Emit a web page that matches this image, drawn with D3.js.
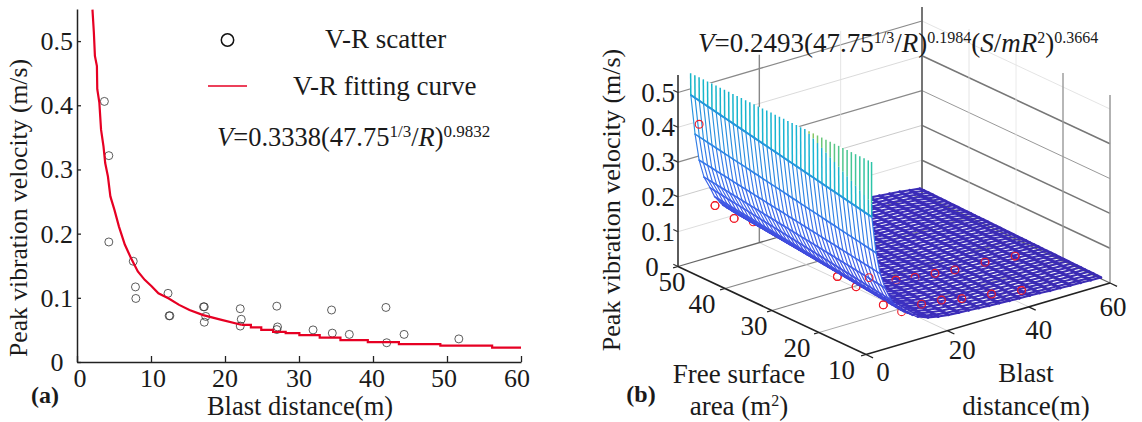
<!DOCTYPE html>
<html>
<head>
<meta charset="utf-8">
<script src="https://cdn.jsdelivr.net/npm/d3@7"></script>
<style>
	body { margin: 0; background: #fff; }
	text { font-family: "Liberation Serif", serif; fill: #1a1a1a; }
</style>
</head>
<body>
<div id="chart"></div>
<script>
// panel (a): measured points, blast distance against peak velocity
const scatterR = [3.7, 4.3, 4.3, 7.6, 7.9, 7.95, 12.3, 12.45, 12.55, 17.1, 17.2, 17.4, 17.2, 22.06, 22.2, 22.06, 27, 27.1, 27, 31.9, 34.4, 34.5, 36.8, 41.75, 41.85, 44.2, 51.6];
const scatterV = [0.406, 0.3215, 0.187, 0.157, 0.117, 0.099, 0.107, 0.072, 0.072, 0.086, 0.086, 0.071, 0.062, 0.083, 0.0666, 0.056, 0.087, 0.0546, 0.0505, 0.05, 0.081, 0.045, 0.043, 0.085, 0.03, 0.043, 0.036];

// fitted curve, the tail of it is visibly stepped
const curveR = [2.09, 2.28, 2.42, 2.69, 2.74, 3.02, 3.25, 3.58, 3.81, 4.18, 4.51, 5.06, 5.67, 6.46, 7.29, 8.22, 9.15, 10.08, 11.0, 12.4, 13.8, 15.2, 17.05, 19.4, 22.2];
const curveV = [0.549, 0.513, 0.477, 0.461, 0.425, 0.404, 0.362, 0.336, 0.31, 0.289, 0.258, 0.237, 0.211, 0.183, 0.162, 0.141, 0.128, 0.118, 0.107, 0.099, 0.089, 0.081, 0.073, 0.066, 0.058];
const tailR = [22.2, 23.5, 24.9, 26.5, 28.2, 30.05, 32.8, 35.6, 39.3, 43.5, 49.1, 56.1, 60];
const tailV = [0.058, 0.054, 0.05, 0.047, 0.045, 0.042, 0.038, 0.034, 0.031, 0.028, 0.0255, 0.0224, 0.0224];

const xTicksA = [0, 10, 20, 30, 40, 50, 60];
const yTicks = [0, 0.1, 0.2, 0.3, 0.4, 0.5];

// panel (b): wire mesh, one row per blast distance, value at both ends of the row
const meshS = [50, 49.1, 48.2, 47.3, 46.4, 45.5, 44.6, 43.7, 42.8, 41.9, 41, 40.1, 39.2, 38.3, 37.4, 36.5, 35.6, 34.7, 33.8, 32.9, 32, 31.1, 30.2, 29.3, 28.4, 27.5, 26.6, 25.7, 24.8, 23.9, 23, 22.1, 21.2, 20.3, 19.4, 18.5, 17.6, 16.7, 15.8, 14.9, 14, 13.1, 12.2, 11.5];
const rowR = [3.15, 4.2, 5.2, 6.4, 7.9, 9, 10.3, 11, 12, 13.2, 14.5, 17, 19.5, 22, 24.5, 27, 29.5, 32, 34.5, 37, 39.5, 42, 44.5, 47, 49.5, 52, 54.5, 57, 59.5];
const rowVFar = [0.482, 0.366, 0.288, 0.235, 0.199, 0.17, 0.15, 0.139, 0.128, 0.115, 0.104, 0.09, 0.079, 0.071, 0.065, 0.06, 0.056, 0.052, 0.048, 0.045, 0.043, 0.041, 0.039, 0.037, 0.034, 0.031, 0.028, 0.024, 0.02];
const rowVNear = [0.375, 0.268, 0.205, 0.16, 0.12, 0.1, 0.085, 0.076, 0.068, 0.058, 0.05, 0.039, 0.033, 0.029, 0.027, 0.025, 0.023, 0.021, 0.02, 0.018, 0.017, 0.016, 0.015, 0.013, 0.012, 0.011, 0.01, 0.009, 0.008];
const crestR = 3.1;
const crestV = [0.545, 0.533];
const greenS = [25.9, 11.5];
const greenV = [0.54, 0.414];

// red measured points of panel (b), three free surface groups
const pointsS = [50, 50, 50, 50, 25, 25, 25, 25, 25, 25, 25, 25, 25, 13.5, 13.5, 13.5, 13.5, 13.5, 13.5, 13.5];
const pointsR = [5.2, 9.1, 13.8, 18.5, 10.3, 14.9, 18.1, 24.7, 29.4, 34.3, 39.2, 46.6, 54, 8.3, 12.8, 17.7, 22.6, 27.6, 34.9, 42.3];
const pointsV = [0.391, 0.144, 0.091, 0.065, 0.094, 0.049, 0.064, 0.034, 0.026, 0.021, 0.014, 0.011, 0.003, 0.092, 0.057, 0.062, 0.057, 0.044, 0.032, 0.017];

const zTicks = [0, 0.1, 0.2, 0.3, 0.4, 0.5];
const sTicks = [50, 40, 30, 20, 10];
const rTicks = [0, 20, 40, 60];

const svg = d3.select("#chart").append("svg")
	.attr("width", 1142)
	.attr("height", 422);

const fontSize = 26;

function label(x, y, str, anchor, size, weight) {
	return svg.append("text")
		.attr("x", x)
		.attr("y", y)
		.attr("text-anchor", anchor || "middle")
		.attr("font-size", size || fontSize)
		.attr("font-weight", weight || "normal")
		.text(str);
}

// equation text made of [string, italic, superscript] pieces
function equation(x, y, parts, size, supSize) {
	const t = svg.append("text").attr("x", x).attr("y", y).attr("font-size", size);
	parts.forEach(p => {
		const s = t.append("tspan").text(p[0]);
		if (p[1]) s.attr("font-style", "italic");
		if (p[2] === 1) s.attr("font-size", supSize).attr("dy", -9);
		if (p[2] === -1) s.attr("dy", 9);
	});
	return t;
}

function drawPanelA() {
	const x = d3.scaleLinear().domain([0, 60]).range([77, 521]);
	const y = d3.scaleLinear().domain([0, 0.55]).range([362, 9]);

	const xAxis = svg.append("g")
		.attr("transform", "translate(0,362)")
		.call(d3.axisBottom(x).tickValues(xTicksA).tickSize(-6).tickSizeOuter(0).tickFormat(""));
	const yAxis = svg.append("g")
		.attr("transform", "translate(77,0)")
		.call(d3.axisLeft(y).tickValues(yTicks).tickSize(-4).tickSizeOuter(0).tickFormat(""));
	[xAxis, yAxis].forEach(a => {
		a.select(".domain").attr("stroke", "#222").attr("stroke-width", 1.5);
		a.selectAll(".tick line").attr("stroke", "#222").attr("stroke-width", 1.3);
	});

	xTicksA.forEach((d, i) => {
		label(x(d) + [3, 2, 0, 0, -1, -3, -4][i], 387, d);
	});
	yTicks.forEach(d => {
		if (d === 0) label(57, y(d) + 9, "0");
		else label(73, y(d) + 9, d.toFixed(1), "end");
	});

	svg.selectAll("circle.measured")
		.data(scatterR)
		.enter().append("circle")
		.attr("class", "measured")
		.attr("cx", d => x(d))
		.attr("cy", (d, i) => y(scatterV[i]))
		.attr("r", 4)
		.attr("fill", "none")
		.attr("stroke", "#333")
		.attr("stroke-width", 0.8);

	const head = d3.line().x(d => x(d)).y((d, i) => y(curveV[i]));
	const tail = d3.line().x(d => x(d)).y((d, i) => y(tailV[i])).curve(d3.curveStepAfter);
	[head(curveR), tail(tailR)].forEach(d => {
		svg.append("path")
			.attr("d", d)
			.attr("fill", "none")
			.attr("stroke", "#e60023")
			.attr("stroke-width", 2.2);
	});

	// legend
	svg.append("circle").attr("cx", 227.5).attr("cy", 40).attr("r", 6.2)
		.attr("fill", "none").attr("stroke", "#111").attr("stroke-width", 1.5);
	svg.append("line").attr("x1", 208).attr("x2", 247).attr("y1", 86).attr("y2", 86)
		.attr("stroke", "#e60023").attr("stroke-width", 1.6);
	label(325, 48, "V-R scatter", "start", 27);
	label(293, 95, "V-R fitting curve", "start", 27);
	equation(217, 146, [["V", true], ["=0.3338(47.75"], ["1/3", false, 1], ["/", false, -1], ["R", true], [")"], ["0.9832", false, 1]], 26.5, 17);

	label(300, 415, "Blast distance(m)", "middle", 26.5);
	svg.append("text")
		.attr("transform", "translate(27,208) rotate(-90)")
		.attr("text-anchor", "middle")
		.attr("font-size", 25.6)
		.text("Peak vibration velocity (m/s)");
	label(45, 403, "(a)", "middle", 24, "bold");
}

function drawPanelB() {
	// oblique view: every point is a sum of three screen offsets
	const sX = d3.scaleLinear().domain([50, 10]).range([678, 866]);
	const sY = d3.scaleLinear().domain([50, 10]).range([266.5, 354.5]);
	const rX = d3.scaleLinear().domain([0, 60]).range([0, 244]);
	const rY = d3.scaleLinear().domain([0, 60]).range([0, -71.5]);
	const vY = d3.scaleLinear().domain([0, 0.5]).range([0, -174]);
	const px = (r, s) => sX(s) + rX(r);
	const py = (r, s, v) => sY(s) + rY(r) + vY(v);

	const seg = (a, b, color, width) => svg.append("line")
		.attr("x1", px(a[0], a[1])).attr("y1", py(a[0], a[1], a[2]))
		.attr("x2", px(b[0], b[1])).attr("y2", py(b[0], b[1], b[2]))
		.attr("stroke", color).attr("stroke-width", width);

	// back walls, the uneven weights come from the resampled original
	const leftWall = {0.1: ["#d4d4d4", 0.8], 0.2: ["#c4c4c4", 0.9], 0.3: ["#8a8a8a", 1.2], 0.4: ["#d0d0d0", 0.8], 0.5: ["#8a8a8a", 1.3]};
	const rightWall = {0.1: ["#777", 1.5], 0.2: ["#777", 1.5], 0.3: ["#999", 1], 0.4: ["#777", 1.6], 0.5: ["#ddd", 0.8]};
	zTicks.slice(1).forEach(v => {
		seg([0, 50, v], [60, 50, v], leftWall[v][0], leftWall[v][1]);
		seg([60, 50, v], [60, 10, v], rightWall[v][0], rightWall[v][1]);
	});
	seg([20, 50, 0], [20, 50, 0.54], "#888", 1.4);
	seg([40, 50, 0], [40, 50, 0.54], "#ddd", 0.8);
	seg([60, 50, 0], [60, 50, 0.54], "#666", 1.8);
	seg([60, 40, 0], [60, 40, 0.54], "#ddd", 0.8);
	seg([60, 30, 0], [60, 30, 0.54], "#e4e4e4", 0.8);
	seg([60, 20, 0], [60, 20, 0.54], "#999", 1.4);
	seg([60, 10, 0], [60, 10, 0.54], "#999", 1.5);

	// floor
	seg([0, 40, 0], [60, 40, 0], "#888", 1.2);
	seg([0, 30, 0], [60, 30, 0], "#888", 1.2);
	seg([0, 20, 0], [60, 20, 0], "#aaa", 1);
	seg([20, 10, 0], [20, 50, 0], "#ccc", 0.8);
	seg([40, 10, 0], [40, 50, 0], "#ccc", 0.8);
	seg([0, 50, 0], [60, 50, 0], "#666", 1.3);
	seg([60, 50, 0], [60, 10, 0], "#666", 1.3);

	// axes
	seg([0, 50, 0], [0, 50, 0.55], "#333", 1.6);
	seg([0, 50, 0], [0, 10, 0], "#222", 1.6);
	seg([0, 10, 0], [60, 10, 0], "#222", 1.6);
	zTicks.forEach(v => seg([0, 51, v], [0, 50, v], "#333", 1.2));
	sTicks.forEach(s => seg([-1.2, s, 0], [0, s, 0], "#222", 1.3));
	rTicks.forEach(r => seg([r, 8.5, 0], [r, 10, 0], "#222", 1.3));

	const ramp = d3.scaleLinear()
		.domain([0, 0.04, 0.1, 0.2, 0.3, 0.4, 0.5])
		.range(["#3a2ab0", "#3c2dbc", "#4046da", "#3f62ea", "#3578ea", "#2b8fe0", "#1f9fd8"]);

	const drawPoints = (group, keep) => group.selectAll("circle")
		.data(pointsR)
		.enter().append("circle")
		.filter((d, i) => keep(i))
		.attr("cx", d => px(d, pointsS[pointsR.indexOf(d)]))
		.attr("cy", d => py(d, pointsS[pointsR.indexOf(d)], pointsV[pointsR.indexOf(d)]))
		.attr("r", 3.9)
		.attr("fill", "none")
		.attr("stroke", "#f01c28")
		.attr("stroke-width", 1.1);
	drawPoints(svg.append("g"), i => true);

	// mesh pieces, the flat sheet goes first and the steep part hides it
	const split = rowR.indexOf(14.5);
	const along = i => d3.scaleLinear().domain([50, 11.5]).range([rowVFar[i], rowVNear[i]]);
	const pieces = [];
	meshS.forEach(s => {
		rowR.slice(1).forEach((r, i) => {
			const a = along(i)(s), b = along(i + 1)(s);
			pieces.push({a: [rowR[i], s, a], b: [r, s, b], v: (a + b) / 2, flat: i >= split, w: i >= split ? 2.1 : 1.15});
		});
	});
	rowR.forEach((r, i) => {
		meshS.slice(1).forEach((s, j) => {
			const a = along(i)(meshS[j]), b = along(i)(s);
			pieces.push({a: [r, meshS[j], a], b: [r, s, b], v: (a + b) / 2, flat: i >= split, w: i >= split ? 2.8 : 1.6});
		});
	});
	pieces.sort((p, q) => p.v - q.v);

	const drawPieces = list => svg.append("g").selectAll("line")
		.data(list)
		.enter().append("line")
		.attr("x1", d => px(d.a[0], d.a[1]))
		.attr("y1", d => py(d.a[0], d.a[1], d.a[2]))
		.attr("x2", d => px(d.b[0], d.b[1]))
		.attr("y2", d => py(d.b[0], d.b[1], d.b[2]))
		.attr("stroke", d => ramp(d.v))
		.attr("stroke-width", d => d.w)
		.attr("stroke-linecap", "round");

	drawPieces(pieces.filter(d => d.flat));

	// white faces of the steep part, the mesh is not see-through
	const crest = d3.scaleLinear().domain([50, 11.5]).range(crestV);
	const outline = [[crestR, 50, crestV[0]], [crestR, 11.5, crestV[1]]];
	rowR.slice(0, split + 1).forEach((r, i) => outline.push([r, 11.5, rowVNear[i]]));
	rowR.slice(0, split + 1).reverse().forEach((r, i) => outline.push([r, 50, rowVFar[split - i]]));
	svg.append("polygon")
		.attr("points", outline.map(d => px(d[0], d[1]) + "," + py(d[0], d[1], d[2])).join(" "))
		.attr("fill", "#fff");
	// the points in front of that white face
	drawPoints(svg.append("g"), i => i === 1 || i === 2 || i === 4 || i === 5);

	drawPieces(pieces.filter(d => !d.flat));

	// the teeth above the first row, teal and then green where the crest goes over
	const green = d3.scaleLinear().domain(greenS).range(greenV);
	const greenColor = d3.scaleLinear().domain([25.9, 22, 11.5]).range(["#a8c84c", "#66c87c", "#2cc4a8"]);
	const tealColor = d3.scaleLinear().domain([50, 25, 11.5]).range(["#17b6c8", "#1ab4d4", "#1fb8c0"]);
	meshS.forEach(s => {
		const base = along(0)(s);
		const top = crest(s);
		const mid = s < greenS[0] ? green(s) : top;
		seg([rowR[0], s, base], [crestR, s, mid], tealColor(s), 1.5);
		if (mid < top) seg([crestR, s, mid], [crestR, s, top], greenColor(s), 1.5);
	});
	// first row again over the teeth feet
	seg([rowR[0], 50, rowVFar[0]], [rowR[0], 11.5, rowVNear[0]], ramp(0.45), 1.8);

	// points lying on top of the mesh
	drawPoints(svg.append("g"), i => i === 0 || (i > 5 && i !== 14))
		.attr("stroke-dasharray", d => (d === 24.7 || d === 29.4) ? "0 12.25 12.25" : null);

	// tick labels, offset by hand along the slanted axes
	zTicks.forEach(v => {
		const str = v === 0 ? "0" : v.toFixed(1);
		if (v === 0) label(652, py(0, 50, v) + 9, str, "middle", 27);
		else label(675, py(0, 50, v) + 9, str, "end", 27);
	});
	const sDx = [-6, -23, -18, -22, -24.5];
	sTicks.forEach((s, i) => label(px(0, s) + sDx[i], py(0, s, 0) + 24, s, "middle", 27));
	const rDx = [17, 15, 10, 3];
	const rDy = [26, 28, 32, 33];
	rTicks.forEach((r, i) => label(px(r, 10) + rDx[i], py(r, 10, 0) + rDy[i], r, "middle", 27));

	equation(698, 52, [["V", true], ["=0.2493(47.75"], ["1/3", false, 1], ["/", false, -1], ["R", true], [")"], ["0.1984", false, 1], ["(", false, -1], ["S", true], ["/"], ["mR", true], ["2", false, 1], [")", false, -1], ["0.3664", false, 1]], 27, 16);

	svg.append("text")
		.attr("transform", "translate(620,200) rotate(-90)")
		.attr("text-anchor", "middle")
		.attr("font-size", 26)
		.text("Peak vibration velocity (m/s)");
	label(739, 383, "Free surface", "middle", 27);
	const area = label(739, 415, "area (m", "middle", 27);
	area.append("tspan").attr("font-size", 16).attr("dy", -9).text("2");
	area.append("tspan").attr("dy", 9).text(")");
	label(1026, 382, "Blast", "middle", 27);
	label(1026, 415, "distance(m)", "middle", 27);
	label(641, 402, "(b)", "middle", 24, "bold");
}

drawPanelA();
drawPanelB();
</script>
</body>
</html>
